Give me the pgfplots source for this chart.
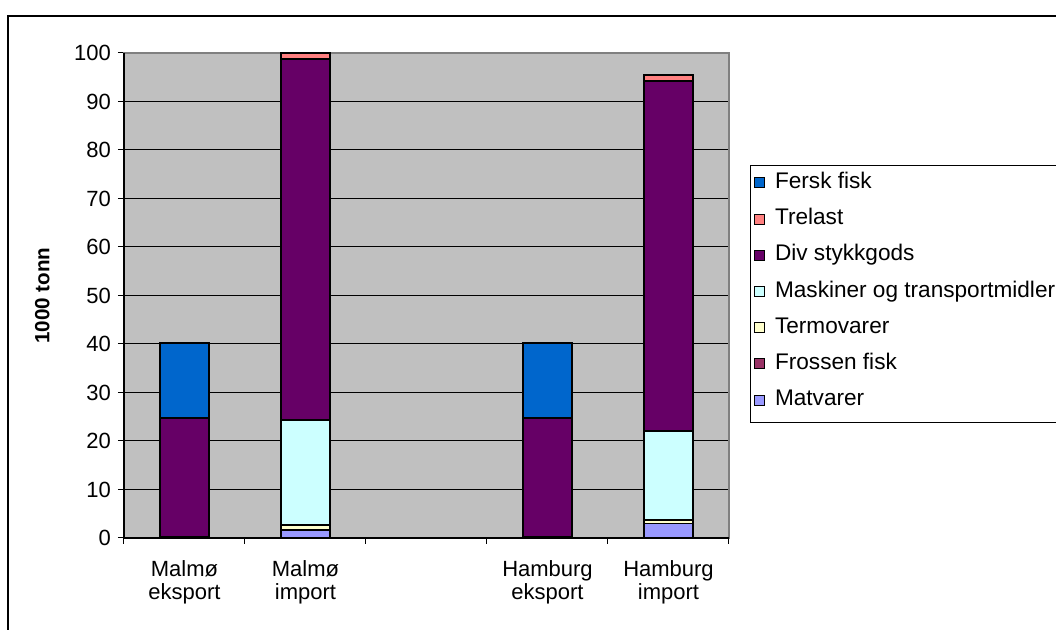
\documentclass[border=0pt]{standalone}
\usepackage{pgfplots}
\pgfplotsset{compat=1.18}
\usepackage{fontspec}
\setmainfont{Liberation Sans}

\definecolor{matv}{HTML}{9999FF}
\definecolor{frossen}{HTML}{993366}
\definecolor{termo}{HTML}{FFFFCC}
\definecolor{mask}{HTML}{CCFFFF}
\definecolor{divst}{HTML}{660066}
\definecolor{trelast}{HTML}{FF8080}
\definecolor{fersk}{HTML}{0066CC}
\definecolor{plotbg}{HTML}{C0C0C0}
\definecolor{frame}{HTML}{808080}

\begin{document}
\begin{tikzpicture}
\useasboundingbox (0,0) rectangle (528pt,315pt);
% chart frame, running past the page on the right and at the bottom
\begin{scope}
\clip (0,0) rectangle (528pt,315pt);
\draw[line width=1pt] (4pt,-20pt) -- (4pt,307pt) -- (560pt,307pt);
\end{scope}
\begin{axis}[
  at={(62pt,46pt)}, anchor=south west,
  scale only axis, width=302.5pt, height=242.5pt,
  ybar stacked, bar width=0.4,
  xmin=-0.5, xmax=4.5, ymin=0, ymax=100,
  xtick={0,1,3,4},
  xticklabels={{Malmø\\eksport},{Malmø\\import},{Hamburg\\eksport},{Hamburg\\import}},
  minor xtick={-0.5,0.5,1.5,2.5,3.5,4.5},
  ytick={0,10,...,100},
  xtick pos=bottom, ytick pos=left,
  tick align=outside,
  major tick length=3pt, minor tick length=3pt,
  major x tick style={draw=none},
  minor x tick style={black, line width=0.5pt},
  major y tick style={black, line width=0.5pt},
  ymajorgrids,
  major grid style={black, line width=0.5pt},
  axis background/.style={fill=plotbg},
  axis line style={draw=frame, line width=0.6pt},
  /pgf/number format/assume math mode=true,
  yticklabel style={font=\fontsize{11}{13}\selectfont},
  xticklabel style={font=\fontsize{11}{11.5}\selectfont, align=center, yshift=-5pt},
  every axis y label/.style={at={(axis description cs:-0.135,0.5)}, rotate=90, anchor=center,
    font=\bfseries\fontsize{10.3}{12}\selectfont},
  ylabel={1000 tonn},
  reverse legend,
  legend cell align=left,
  legend image code/.code={\draw[#1, draw=black, line width=0.5pt] (0pt,-1.2pt) rectangle (5pt,3.8pt);},
  legend style={at={(1.034,0.769)}, anchor=north west, draw=black, line width=0.5pt, fill=white,
    font=\fontsize{11.3}{13}\selectfont, row sep=3.1pt, inner xsep=2pt, inner ysep=2.5pt,
    nodes={text height=7pt, text depth=4pt, inner sep=2pt},
    /tikz/every odd column/.append style={column sep=3pt}},
  after end axis/.code={
    \draw[black, line width=0.6pt] (rel axis cs:0,1) -- (rel axis cs:0,0) -- (rel axis cs:1,0);
  },
]
% stacked from the bottom: Matvarer first, Fersk fisk on top
\addplot[fill=matv,    draw=black, line width=0.9pt] coordinates {(0,0) (1,1.6) (3,0) (4,3.0)};
\addplot[fill=frossen, draw=black, line width=0.9pt] coordinates {(0,0.2) (1,0) (3,0.2) (4,0)};
\addplot[fill=termo,   draw=black, line width=0.9pt] coordinates {(0,0) (1,1.1) (3,0) (4,0.7)};
\addplot[fill=mask,    draw=black, line width=0.9pt] coordinates {(0,0) (1,21.6) (3,0) (4,18.4)};
\addplot[fill=divst,   draw=black, line width=0.9pt] coordinates {(0,24.6) (1,74.5) (3,24.6) (4,72.2)};
\addplot[fill=trelast, draw=black, line width=0.9pt] coordinates {(0,0) (1,1.2) (3,0) (4,1.1)};
\addplot[fill=fersk,   draw=black, line width=0.9pt] coordinates {(0,15.4) (1,0) (3,15.4) (4,0)};
\legend{Matvarer, Frossen fisk, Termovarer, Maskiner og transportmidler, Div stykkgods, Trelast, Fersk fisk}
\end{axis}
\end{tikzpicture}
\end{document}
